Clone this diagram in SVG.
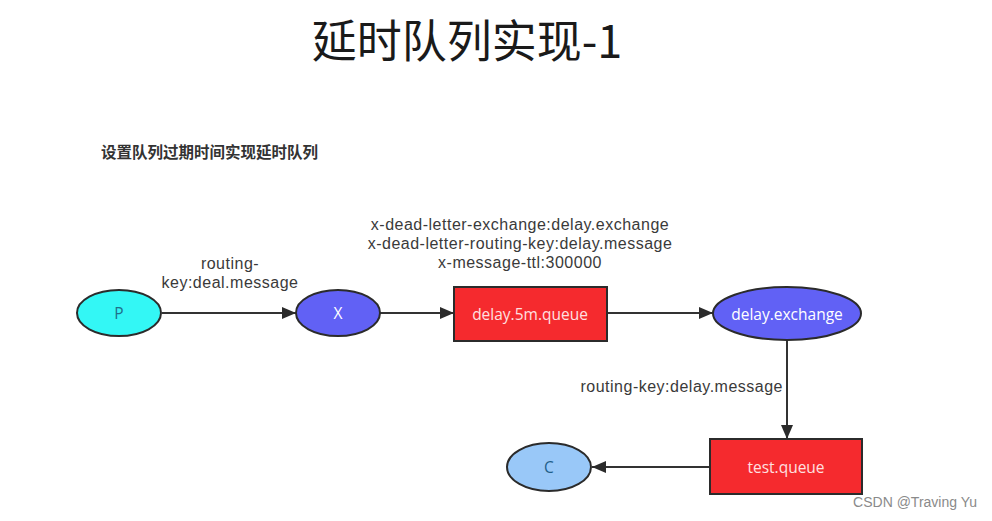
<svg xmlns="http://www.w3.org/2000/svg" width="992" height="521" viewBox="0 0 992 521">
<style>
.bg{fill:#ffffff}
.node{stroke:#2b2b2b;stroke-width:2}
.lbl{font-family:"Liberation Sans","Noto Sans CJK SC",sans-serif;font-size:16px;letter-spacing:0.5px;fill:#3a3a3a;text-anchor:middle}
.ntxt{font-family:"Open Sans","Liberation Sans",sans-serif;font-size:15.5px;text-anchor:middle;dominant-baseline:central}
.edge{stroke:#333333;stroke-width:2;fill:none;marker-end:url(#arr)}
</style>
<defs>
<marker id="arr" viewBox="0 0 14 12" refX="14" refY="6" markerWidth="14" markerHeight="12" markerUnits="userSpaceOnUse" orient="auto">
<path d="M0,0 L14,6 L0,12 z" fill="#2b2b2b"/>
</marker>
</defs>
<rect class="bg" x="0" y="0" width="992" height="521"/>
<text x="467" y="58" font-family="'Noto Sans CJK SC','Noto Sans',sans-serif" font-size="45" fill="#1a1a1a" text-anchor="middle">延时队列实现-1</text>
<text x="101" y="158" font-family="'Noto Sans CJK SC',sans-serif" font-size="15.5" font-weight="bold" fill="#333333">设置队列过期时间实现延时队列</text>
<g id="connectors">
<line class="edge" x1="162" y1="313" x2="296" y2="313"/>
<line class="edge" x1="380" y1="313" x2="454" y2="313"/>
<line class="edge" x1="607" y1="313" x2="713" y2="313"/>
<line class="edge" x1="787" y1="340" x2="787" y2="439"/>
<line class="edge" x1="710" y1="467" x2="592" y2="467"/>
<text class="lbl" x="230" y="269">routing-</text>
<text class="lbl" x="230" y="288">key:deal.message</text>
<text class="lbl" x="520" y="230">x-dead-letter-exchange:delay.exchange</text>
<text class="lbl" x="520" y="249">x-dead-letter-routing-key:delay.message</text>
<text class="lbl" x="520" y="268">x-message-ttl:300000</text>
<text class="lbl" x="783" y="392" style="text-anchor:end">routing-key:delay.message</text>
</g>
<g id="P">
<ellipse class="node" cx="119" cy="313" rx="42" ry="23" fill="#33f7f5"/>
<text class="ntxt" x="119" y="313" fill="#1f6f8a">P</text>
</g>
<g id="X">
<ellipse class="node" cx="338" cy="313" rx="42" ry="23" fill="#6161f5"/>
<text class="ntxt" x="338" y="313" fill="#ffffff">X</text>
</g>
<g id="delay5m">
<rect class="node" x="454" y="287" width="153" height="54" fill="#f52a2e"/>
<text class="ntxt" x="530" y="314" fill="#ffe0e0">delay.5m.queue</text>
</g>
<g id="delayexchange">
<ellipse class="node" cx="787" cy="313.5" rx="74" ry="26.5" fill="#6161f5"/>
<text class="ntxt" x="787" y="314" fill="#ffffff">delay.exchange</text>
</g>
<g id="testqueue">
<rect class="node" x="710" y="439" width="152" height="55" fill="#f52a2e"/>
<text class="ntxt" x="786" y="467" fill="#ffe0e0">test.queue</text>
</g>
<g id="C">
<ellipse class="node" cx="549" cy="467" rx="42" ry="24" fill="#99c8f8"/>
<text class="ntxt" x="549" y="467" fill="#1f5f8a">C</text>
</g>
<text x="977" y="507" font-family="'Liberation Sans',sans-serif" font-size="14" fill="#8a8a8a" text-anchor="end">CSDN @Traving Yu</text>
</svg>
